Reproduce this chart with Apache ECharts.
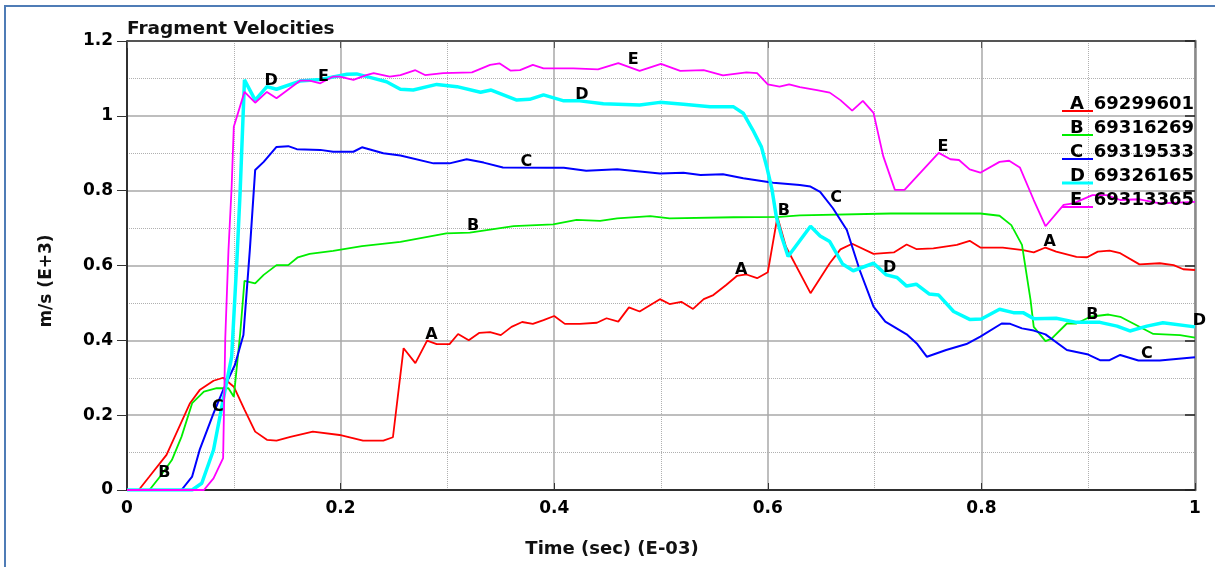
<!DOCTYPE html>
<html>
<head>
<meta charset="utf-8">
<script src="https://cdn.jsdelivr.net/npm/echarts@6/dist/echarts.min.js"></script>
<style>
  html, body { margin: 0; padding: 0; background: #fff; }
  #chart { position: absolute; left: 0; top: 0; width: 1215px; height: 567px; }
  #frame { position: absolute; left: 4px; top: 5px; width: 1215px; height: 567px;
           border-left: 2px solid #4f7cb6; border-top: 2px solid #4f7cb6; pointer-events: none; }
</style>
</head>
<body>
<div id="chart"></div>
<div id="frame"></div>
<script>
// Fragment velocity histories: [time (E-03 s), velocity (E+3 m/s)]
const curveKeys = ['A', 'B', 'C', 'D', 'E'];
const fragmentIds = ['69299601', '69316269', '69319533', '69326165', '69313365'];
const lineColors = ['#ff0000', '#00ee00', '#0000ff', '#00ffff', '#ff00ff'];
const lineWidths = [1.8, 1.8, 2, 3.5, 1.8];

const velocityA = [
  [0, 0], [0.011, 0], [0.021, 0.036], [0.037, 0.094], [0.059, 0.232], [0.068, 0.267], [0.081, 0.292],
  [0.090, 0.300], [0.100, 0.276], [0.110, 0.215], [0.120, 0.156], [0.131, 0.134], [0.140, 0.132],
  [0.153, 0.142], [0.174, 0.156], [0.199, 0.147], [0.221, 0.132], [0.240, 0.132], [0.249, 0.141],
  [0.259, 0.379], [0.270, 0.339], [0.281, 0.399], [0.290, 0.390], [0.302, 0.390], [0.310, 0.417],
  [0.320, 0.400], [0.330, 0.420], [0.340, 0.422], [0.350, 0.414], [0.360, 0.436], [0.370, 0.449],
  [0.380, 0.444], [0.390, 0.454], [0.400, 0.465], [0.410, 0.444], [0.424, 0.444], [0.440, 0.447],
  [0.449, 0.459], [0.460, 0.450], [0.470, 0.488], [0.480, 0.477], [0.499, 0.510], [0.508, 0.497],
  [0.519, 0.503], [0.530, 0.484], [0.540, 0.510], [0.549, 0.521], [0.561, 0.548], [0.571, 0.572],
  [0.580, 0.576], [0.590, 0.566], [0.600, 0.582], [0.609, 0.730], [0.617, 0.650], [0.640, 0.526],
  [0.658, 0.606], [0.668, 0.643], [0.679, 0.658], [0.699, 0.631], [0.718, 0.635], [0.730, 0.656],
  [0.739, 0.644], [0.755, 0.646], [0.777, 0.655], [0.789, 0.666], [0.799, 0.648], [0.820, 0.648],
  [0.839, 0.641], [0.849, 0.635], [0.860, 0.648], [0.870, 0.637], [0.889, 0.623], [0.899, 0.622],
  [0.909, 0.637], [0.920, 0.640], [0.930, 0.633], [0.948, 0.603], [0.967, 0.606], [0.980, 0.601],
  [0.989, 0.590], [1.0, 0.588]
];

const velocityB = [
  [0, 0], [0.021, 0], [0.031, 0.036], [0.042, 0.080], [0.051, 0.142], [0.061, 0.232], [0.072, 0.263],
  [0.084, 0.272], [0.095, 0.272], [0.100, 0.249], [0.106, 0.419], [0.110, 0.559], [0.120, 0.552],
  [0.128, 0.575], [0.140, 0.601], [0.151, 0.601], [0.160, 0.622], [0.171, 0.631], [0.193, 0.639],
  [0.220, 0.652], [0.256, 0.663], [0.299, 0.686], [0.321, 0.688], [0.362, 0.705], [0.399, 0.710],
  [0.421, 0.722], [0.443, 0.719], [0.459, 0.726], [0.490, 0.732], [0.508, 0.726], [0.568, 0.729],
  [0.611, 0.730], [0.630, 0.734], [0.715, 0.739], [0.799, 0.739], [0.817, 0.733], [0.828, 0.708],
  [0.838, 0.655], [0.846, 0.508], [0.849, 0.436], [0.860, 0.398], [0.866, 0.405], [0.880, 0.445],
  [0.889, 0.445], [0.902, 0.463], [0.919, 0.469], [0.930, 0.463], [0.961, 0.417], [0.986, 0.414],
  [1.0, 0.407]
];

const velocityC = [
  [0, 0], [0.051, 0], [0.061, 0.036], [0.068, 0.107], [0.081, 0.205], [0.090, 0.267], [0.101, 0.334],
  [0.109, 0.414], [0.115, 0.641], [0.120, 0.855], [0.128, 0.877], [0.140, 0.917], [0.151, 0.919],
  [0.159, 0.911], [0.181, 0.909], [0.193, 0.904], [0.212, 0.904], [0.220, 0.916], [0.240, 0.900],
  [0.256, 0.894], [0.287, 0.873], [0.302, 0.873], [0.318, 0.884], [0.334, 0.875], [0.352, 0.862],
  [0.393, 0.861], [0.409, 0.861], [0.430, 0.853], [0.459, 0.857], [0.499, 0.846], [0.521, 0.848],
  [0.537, 0.842], [0.558, 0.844], [0.577, 0.833], [0.605, 0.821], [0.630, 0.815], [0.640, 0.811],
  [0.649, 0.797], [0.661, 0.753], [0.674, 0.695], [0.686, 0.588], [0.699, 0.490], [0.710, 0.450],
  [0.730, 0.416], [0.740, 0.390], [0.749, 0.356], [0.767, 0.374], [0.786, 0.390], [0.799, 0.410],
  [0.819, 0.445], [0.827, 0.444], [0.838, 0.432], [0.849, 0.426], [0.860, 0.416], [0.880, 0.374],
  [0.899, 0.363], [0.911, 0.347], [0.920, 0.347], [0.930, 0.361], [0.947, 0.346], [0.967, 0.346],
  [1.0, 0.355]
];

const velocityD = [
  [0, 0], [0.061, 0], [0.070, 0.018], [0.081, 0.107], [0.090, 0.241], [0.098, 0.356], [0.103, 0.620],
  [0.106, 0.802], [0.110, 1.096], [0.120, 1.042], [0.131, 1.078], [0.140, 1.071], [0.162, 1.093],
  [0.181, 1.097], [0.206, 1.111], [0.215, 1.112], [0.231, 1.100], [0.243, 1.091], [0.256, 1.071],
  [0.268, 1.069], [0.290, 1.084], [0.309, 1.078], [0.331, 1.063], [0.341, 1.069], [0.365, 1.042],
  [0.377, 1.044], [0.390, 1.056], [0.409, 1.040], [0.424, 1.040], [0.446, 1.032], [0.480, 1.029],
  [0.499, 1.036], [0.521, 1.031], [0.546, 1.024], [0.568, 1.024], [0.577, 1.007], [0.586, 0.962],
  [0.594, 0.917], [0.599, 0.864], [0.604, 0.802], [0.608, 0.730], [0.613, 0.677], [0.619, 0.624],
  [0.640, 0.705], [0.649, 0.679], [0.658, 0.664], [0.670, 0.604], [0.680, 0.586], [0.699, 0.606],
  [0.711, 0.575], [0.721, 0.568], [0.730, 0.545], [0.739, 0.550], [0.751, 0.524], [0.760, 0.521],
  [0.774, 0.477], [0.789, 0.456], [0.800, 0.457], [0.817, 0.483], [0.830, 0.474], [0.839, 0.474],
  [0.849, 0.458], [0.870, 0.459], [0.889, 0.448], [0.911, 0.448], [0.927, 0.438], [0.939, 0.425],
  [0.955, 0.438], [0.970, 0.447], [1.0, 0.436]
];

const velocityE = [
  [0, 0], [0.072, 0], [0.081, 0.031], [0.090, 0.085], [0.092, 0.405], [0.095, 0.640], [0.098, 0.811],
  [0.100, 0.971], [0.110, 1.064], [0.120, 1.035], [0.131, 1.064], [0.140, 1.047], [0.162, 1.094],
  [0.171, 1.094], [0.181, 1.087], [0.193, 1.105], [0.199, 1.105], [0.212, 1.096], [0.224, 1.109],
  [0.231, 1.114], [0.246, 1.105], [0.256, 1.109], [0.270, 1.122], [0.279, 1.109], [0.296, 1.114],
  [0.323, 1.116], [0.340, 1.136], [0.349, 1.140], [0.359, 1.121], [0.368, 1.122], [0.380, 1.136],
  [0.390, 1.127], [0.418, 1.127], [0.441, 1.124], [0.460, 1.141], [0.480, 1.120], [0.500, 1.139],
  [0.518, 1.120], [0.540, 1.122], [0.558, 1.108], [0.580, 1.116], [0.590, 1.114], [0.600, 1.084],
  [0.611, 1.078], [0.620, 1.084], [0.630, 1.077], [0.646, 1.069], [0.658, 1.062], [0.668, 1.042],
  [0.679, 1.014], [0.689, 1.040], [0.699, 1.008], [0.708, 0.893], [0.719, 0.802], [0.728, 0.802],
  [0.760, 0.901], [0.771, 0.884], [0.779, 0.882], [0.789, 0.857], [0.799, 0.848], [0.817, 0.877],
  [0.826, 0.880], [0.836, 0.862], [0.849, 0.775], [0.860, 0.705], [0.877, 0.762], [0.886, 0.766],
  [0.904, 0.788], [0.917, 0.788], [0.930, 0.775], [0.948, 0.777], [0.967, 0.766], [1.0, 0.770]
];

// Where each curve's identifying letter is printed along it
const letterA = [[0.285, 0.414], [0.575, 0.588], [0.864, 0.664]];
const letterB = [[0.035, 0.047], [0.324, 0.706], [0.615, 0.746], [0.904, 0.468]];
const letterC = [[0.085, 0.221], [0.374, 0.876], [0.664, 0.781], [0.955, 0.363]];
const letterD = [[0.135, 1.094], [0.426, 1.056], [0.714, 0.593], [1.004, 0.452]];
const letterE = [[0.184, 1.103], [0.474, 1.149], [0.764, 0.916]];

const velocities = [velocityA, velocityB, velocityC, velocityD, velocityE];
const letters = [letterA, letterB, letterC, letterD, letterE];

const FONT = 'DejaVu Sans';
const chart = echarts.init(document.getElementById('chart'), null, { renderer: 'canvas' });

const lineSeries = velocities.map((data, i) => ({
  name: curveKeys[i] + ' ' + fragmentIds[i],
  type: 'line',
  data: data,
  showSymbol: false,
  symbol: 'none',
  lineStyle: { color: lineColors[i], width: lineWidths[i] },
  z: 3 + i,
  animation: false
}));

const letterSeries = letters.map((data, i) => ({
  type: 'scatter',
  data: data,
  symbolSize: 1,
  itemStyle: { opacity: 0 },
  clip: false,
  silent: true,
  z: 20,
  label: {
    show: true,
    position: 'inside',
    formatter: curveKeys[i],
    color: '#000',
    opacity: 1,
    fontFamily: FONT,
    fontWeight: 'bold',
    fontSize: 16
  },
  animation: false
}));

// Legend: letter with a coloured underline, then the fragment id
const legendGraphics = [];
curveKeys.forEach((k, i) => {
  const base = 110 + 24 * i;
  legendGraphics.push({
    type: 'line', z: 30,
    shape: { x1: 1062, y1: base + 1, x2: 1093, y2: base + 1 },
    style: { stroke: lineColors[i], lineWidth: i === 3 ? 3 : 2 }
  });
  legendGraphics.push({
    type: 'text', z: 31,
    style: { x: 1070, y: base - 6, text: k, textAlign: 'left', textVerticalAlign: 'middle',
             font: 'bold 18px "' + FONT + '"', fill: '#000' }
  });
  legendGraphics.push({
    type: 'text', z: 31,
    style: { x: 1194, y: base - 6, text: fragmentIds[i], textAlign: 'right', textVerticalAlign: 'middle',
             font: 'bold 18px "' + FONT + '"', fill: '#000' }
  });
});

const axisLabelStyle = { fontFamily: FONT, fontWeight: 'bold', fontSize: 17, color: '#000' };

chart.setOption({
  animation: false,
  backgroundColor: '#fff',
  grid: { left: 127, right: 20, top: 41, bottom: 77, containLabel: false },
  xAxis: [
    {
      type: 'value', position: 'bottom', min: 0, max: 1, interval: 0.2,
      axisLine: { onZero: false, lineStyle: { color: '#000', width: 1.5 } },
      axisTick: { inside: true, length: 7, lineStyle: { color: '#333', width: 1 } },
      minorTick: { show: false, splitNumber: 2 },
      axisLabel: Object.assign({ margin: 10 }, axisLabelStyle),
      splitLine: { show: true, lineStyle: { color: '#a8a8a8', width: 1.5 } },
      minorSplitLine: { show: true, lineStyle: { color: '#b0b0b0', width: 1, type: 'dotted' } }
    },
    {
      type: 'value', position: 'top', min: 0, max: 1, interval: 0.2,
      axisLine: { onZero: false, lineStyle: { color: '#333', width: 1.5 } },
      axisTick: { inside: true, length: 7, lineStyle: { color: '#555', width: 1 } },
      axisLabel: { show: false },
      splitLine: { show: false }
    }
  ],
  yAxis: [
    {
      type: 'value', position: 'left', min: 0, max: 1.2, interval: 0.2,
      axisLine: { onZero: false, lineStyle: { color: '#000', width: 1.5 } },
      axisTick: { inside: false, length: 10, lineStyle: { color: '#333', width: 1 } },
      minorTick: { show: false, splitNumber: 2 },
      axisLabel: Object.assign({ margin: 14 }, axisLabelStyle),
      splitLine: { show: true, lineStyle: { color: '#a8a8a8', width: 1.5 } },
      minorSplitLine: { show: true, lineStyle: { color: '#b0b0b0', width: 1, type: 'dotted' } }
    },
    {
      type: 'value', position: 'right', min: 0, max: 1.2, interval: 0.2,
      axisLine: { onZero: false, lineStyle: { color: '#8a8a8a', width: 2.5 } },
      axisTick: { inside: true, length: 10, lineStyle: { color: '#222', width: 1.5 } },
      axisLabel: { show: false },
      splitLine: { show: false }
    }
  ],
  series: lineSeries.concat(letterSeries),
  graphic: [
    {
      type: 'text', z: 40,
      style: { x: 127, y: 29, text: 'Fragment Velocities', textAlign: 'left', textVerticalAlign: 'middle',
               font: 'bold 18.5px "' + FONT + '"', fill: '#111' }
    },
    {
      type: 'text', z: 40,
      style: { x: 612, y: 549, text: 'Time (sec) (E-03)', textAlign: 'center', textVerticalAlign: 'middle',
               font: 'bold 18px "' + FONT + '"', fill: '#111' }
    },
    {
      type: 'text', z: 40, x: 47, y: 281, rotation: Math.PI / 2,
      style: { x: 0, y: 0, text: 'm/s (E+3)', textAlign: 'center', textVerticalAlign: 'middle',
               font: 'bold 17px "' + FONT + '"', fill: '#111' }
    }
  ].concat(legendGraphics)
});
</script>
</body>
</html>
